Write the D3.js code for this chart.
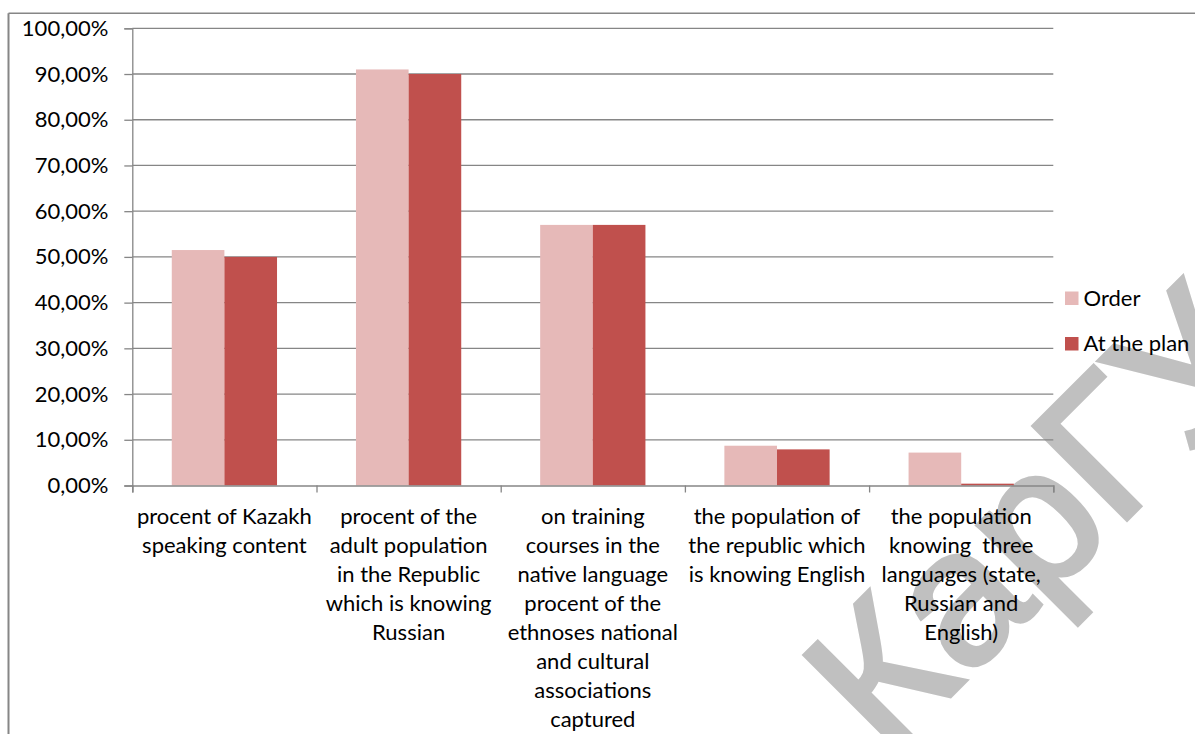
<!DOCTYPE html>
<html>
<head>
<meta charset="utf-8">
<script src="https://cdn.jsdelivr.net/npm/d3@7"></script>
<style>
  html, body { margin: 0; padding: 0; background: #fff; }
  svg { display: block; }
  text { font-family: Lato, "Open Sans", sans-serif; fill: #000; }
</style>
</head>
<body>
<svg id="chart" width="1195" height="734"></svg>
<script>
// Category labels, already broken into lines
const categories = [
  ["procent of Kazakh", "speaking content"],
  ["procent of the", "adult population", "in the Republic", "which is knowing", "Russian"],
  ["on training", "courses in the", "native language", "procent of the", "ethnoses national", "and cultural", "associations", "captured"],
  ["the population of", "the republic which", "is knowing English"],
  ["the population", "knowing  three", "languages (state,", "Russian and", "English)"]
];
const seriesNames = ["Order", "At the plan"];
const orderValues = [0.515, 0.91, 0.57, 0.087, 0.072];
const planValues  = [0.50, 0.90, 0.57, 0.079, 0.004];
const yTicks = [0, 0.1, 0.2, 0.3, 0.4, 0.5, 0.6, 0.7, 0.8, 0.9, 1.0];
const colors = ["#E6B9B8", "#C0504D"];
const watermark = "КарГУ";

const svg = d3.select("#chart");
const W = 1195, H = 734;
const plot = { left: 132.3, right: 1053.3, top: 28.3, bottom: 485.5 };
const gridColor = "#868686";
const fontSize = 22;

// watermark behind the chart
svg.append("text")
  .attr("transform", "translate(887,759) rotate(-45)")
  .style("font-family", "'Liberation Sans', Arial, sans-serif")
  .style("font-size", "191px")
  .style("font-weight", "normal")
  .style("fill", "#c0c0c0")
  .style("stroke", "#c0c0c0")
  .style("stroke-width", "5px")
  .style("stroke-linejoin", "miter")
  .text(watermark);

// chart frame (top and left edges visible)
svg.append("line").attr("x1", 8.5).attr("x2", W).attr("y1", 13.3).attr("y2", 13.3)
  .attr("stroke", gridColor).attr("stroke-width", 1.5);
svg.append("line").attr("x1", 8.5).attr("x2", 8.5).attr("y1", 13.3).attr("y2", H)
  .attr("stroke", gridColor).attr("stroke-width", 2);

const keys = categories.map((c, i) => "c" + i);
const data = keys.map((k, i) => ({ key: k, lines: categories[i], values: [orderValues[i], planValues[i]] }));

const x0 = d3.scaleBand().domain(keys).range([plot.left, plot.right]).padding(0);
const x1 = d3.scaleBand().domain(seriesNames).range([0, x0.bandwidth()]).paddingInner(0).paddingOuter(0.75);
const y = d3.scaleLinear().domain([0, 1]).range([plot.bottom, plot.top]);
const xEdge = d3.scaleLinear().domain([0, keys.length]).range([plot.left, plot.right]);

// horizontal gridlines
svg.append("g").selectAll("line").data(yTicks.filter(t => t > 0)).join("line")
  .attr("x1", plot.left).attr("x2", plot.right)
  .attr("y1", d => y(d)).attr("y2", d => y(d))
  .attr("stroke", gridColor).attr("stroke-width", 1.3);

// bars
const groups = svg.append("g").selectAll("g").data(data).join("g")
  .attr("transform", d => `translate(${x0(d.key)},0)`);
groups.selectAll("rect").data(d => d.values.map((v, j) => ({ s: seriesNames[j], v, j }))).join("rect")
  .attr("x", d => x1(d.s))
  .attr("width", x1.bandwidth())
  .attr("y", d => y(d.v))
  .attr("height", d => y(0) - y(d.v))
  .attr("fill", d => colors[d.j]);

// y axis
const fmt = v => (v * 100).toFixed(2).replace(".", ",") + "%";
const yAxis = svg.append("g").attr("transform", `translate(${plot.left},0)`)
  .call(d3.axisLeft(y).tickValues(yTicks).tickFormat(fmt).tickSize(8).tickPadding(16));
yAxis.select(".domain").attr("stroke", gridColor).attr("stroke-width", 1.3);
yAxis.selectAll(".tick line").attr("stroke", gridColor).attr("stroke-width", 1.3);
yAxis.selectAll(".tick text").style("font-size", fontSize + "px").style("font-family", "Lato").attr("fill", "#000");

// x axis with ticks at category boundaries
const xAxis = svg.append("g").attr("transform", `translate(0,${plot.bottom})`)
  .call(d3.axisBottom(xEdge).tickValues(d3.range(keys.length + 1)).tickSize(7).tickFormat(""));
xAxis.select(".domain").attr("stroke", gridColor).attr("stroke-width", 1.5);
xAxis.selectAll(".tick line").attr("stroke", gridColor).attr("stroke-width", 1.3);

// category labels
const lineH = 29;
svg.append("g").selectAll("text").data(data).join("text")
  .attr("text-anchor", "middle")
  .style("font-size", fontSize + "px")
  .each(function (d) {
    const cx = x0(d.key) + x0.bandwidth() / 2;
    d3.select(this).selectAll("tspan").data(d.lines).join("tspan")
      .attr("x", cx)
      .attr("y", (l, i) => plot.bottom + 38.5 + i * lineH)
      .attr("xml:space", "preserve")
      .text(l => l);
  });

// legend
const legend = svg.append("g").selectAll("g").data(seriesNames).join("g")
  .attr("transform", (d, i) => `translate(1065,${298 + i * 45.5})`);
legend.append("rect").attr("x", 0).attr("y", -6.5).attr("width", 13.5).attr("height", 13.5)
  .attr("fill", (d, i) => colors[i]);
legend.append("text").attr("x", 18.5).attr("y", 0).attr("dy", "0.35em")
  .style("font-size", fontSize + "px").text(d => d);
</script>
</body>
</html>
